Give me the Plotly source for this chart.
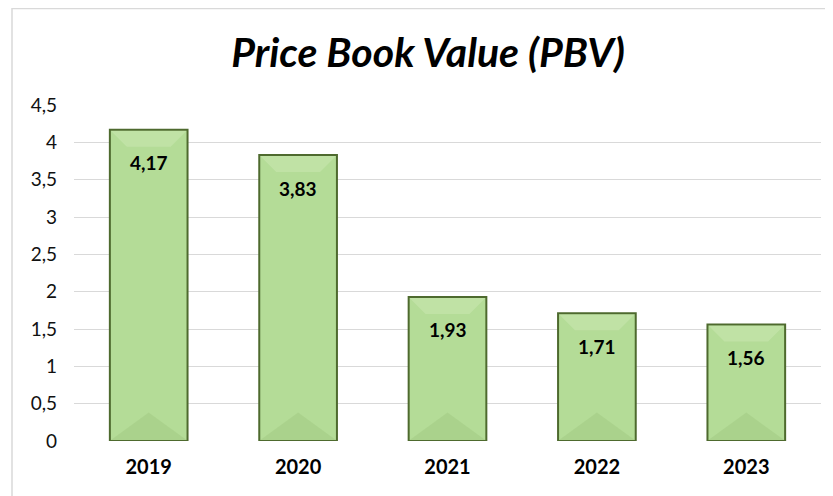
import plotly.graph_objects as go

years = ["2019", "2020", "2021", "2022", "2023"]
pbv = [4.17, 3.83, 1.93, 1.71, 1.56]
y_ticks = [0, 0.5, 1, 1.5, 2, 2.5, 3, 3.5, 4, 4.5]

# page body has an 8px margin, so the figure is sized/positioned to compensate
W, H = 825, 488
ml, mr, mt, mb = 66, 12, 97, 55
pw, ph = W - ml - mr, H - mt - mb
BAR_W = 0.52
half_px = BAR_W * pw / len(years) / 2 - 1

fig = go.Figure()
fig.add_trace(go.Bar(
    x=list(range(len(years))), y=pbv,
    marker=dict(color="#b4dc97", line=dict(color="#4e6a2e", width=2)),
    width=BAR_W,
    hoverinfo="y",
))

for i, v in enumerate(pbv):
    # bevel shading: darker bottom facet, lighter top facet
    fig.add_shape(type="path", xref="x", yref="y", xsizemode="pixel", ysizemode="pixel",
                  xanchor=i, yanchor=0,
                  path=f"M {-half_px},1 L 0,{half_px * 0.75} L {half_px},1 Z",
                  fillcolor="rgba(90,130,50,0.10)", line=dict(width=0), layer="above")
    fig.add_shape(type="path", xref="x", yref="y", xsizemode="pixel", ysizemode="pixel",
                  xanchor=i, yanchor=v,
                  path=f"M {-half_px},-1 L {half_px},-1 L {half_px - 16},-17 L {-half_px + 16},-17 Z",
                  fillcolor="rgba(235,250,220,0.22)", line=dict(width=0), layer="above")
    fig.add_annotation(x=i, y=v, yshift=-33, showarrow=False,
                       text="<b>" + f"{v:.2f}".replace(".", ",") + "</b>",
                       font=dict(family="Lato, Open Sans, sans-serif", size=19, color="#000000"))

# chart area border (light gray), extends past right/bottom edges
fig.add_shape(type="rect", xref="paper", yref="paper",
              x0=(4 - ml) / pw, x1=(W + 10 - ml) / pw,
              y0=(H - mb - (H + 10)) / ph, y1=(H - mb - 0.5) / ph,
              line=dict(color="#d9d9d9", width=1.5), fillcolor="rgba(0,0,0,0)", layer="below")

fig.update_layout(
    width=W, height=H,
    margin=dict(l=ml, r=mr, t=mt, b=mb),
    paper_bgcolor="white", plot_bgcolor="white",
    separators=",.",
    showlegend=False,
    title=dict(text="<b><i>Price Book Value (PBV)</i></b>",
               x=420 / W, xanchor="center", xref="container",
               y=1 - 45 / H, yanchor="middle",
               font=dict(family="Lato, Open Sans, sans-serif", size=41, color="#000000")),
    font=dict(family="Lato, Open Sans, sans-serif", color="#000000"),
)
fig.update_yaxes(range=[0, 4.5], tickvals=y_ticks, showgrid=True, gridcolor="#d9d9d9",
                 gridwidth=1, zeroline=False, showline=False, ticks="",
                 tickfont=dict(size=19, color="#111111"), ticklabelstandoff=16)
fig.update_xaxes(range=[-0.5, len(years) - 0.5], tickvals=list(range(len(years))),
                 ticktext=years, showgrid=False, showline=False, ticks="",
                 tickfont=dict(size=20, color="#000000", weight="bold"),
                 ticklabelstandoff=12)

fig.write_html("out.html")
